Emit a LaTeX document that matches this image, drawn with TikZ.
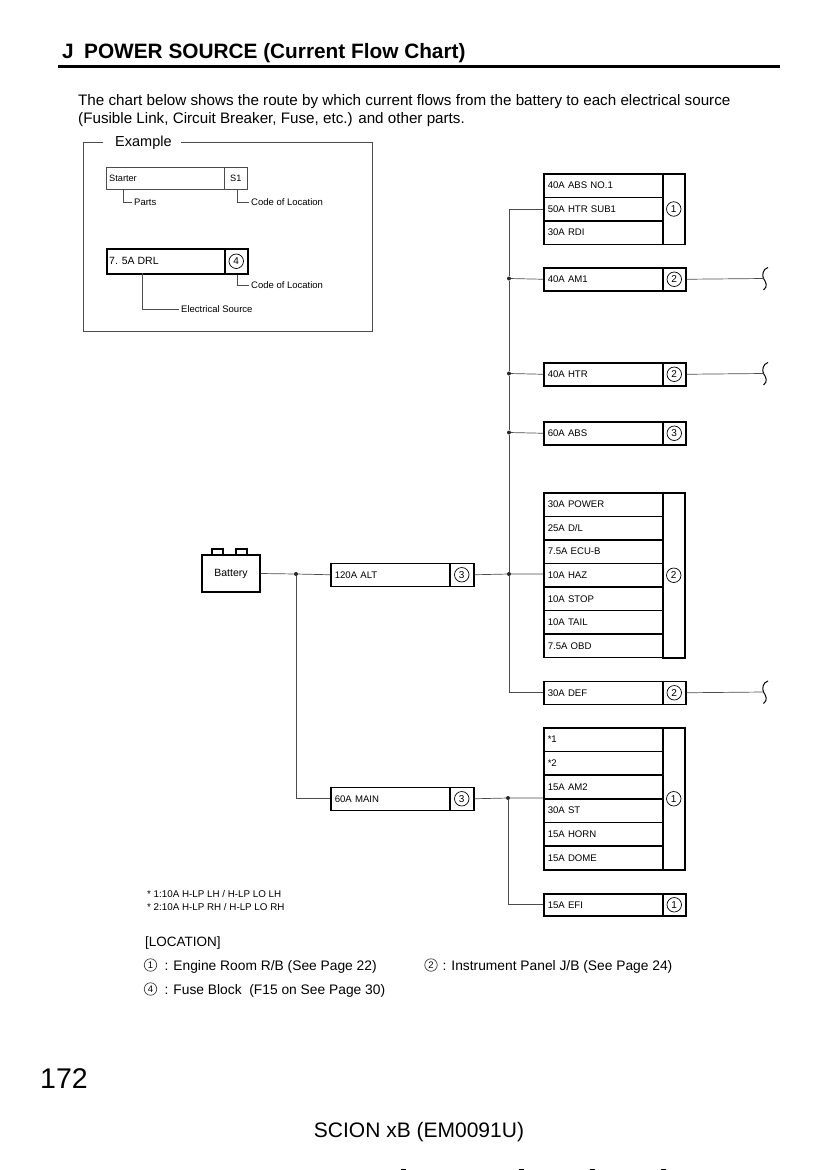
\documentclass[tikz,border=0pt]{standalone}
\usepackage{fontspec}
\setmainfont{Liberation Sans}
\usetikzlibrary{calc}
\newcommand\fsz[1]{\fontsize{#1}{#1}\selectfont}
\begin{document}
\begin{tikzpicture}[x=1pt,y=-1pt,
  cell/.style={draw, line width=1.5pt, minimum height=#1, text width=111pt, inner xsep=4pt, inner ysep=0pt, align=left, anchor=north west, font=\fsz{9.6}},
  cell/.default=23.5pt,
  codecell/.style={draw, line width=1.5pt, minimum width=23pt, minimum height=#1, inner sep=0pt, anchor=north west},
  codecell/.default=23.5pt,
  cnum/.style={circle, draw, line width=0.7pt, minimum size=14.5pt, inner sep=0pt, font=\fsz{10}},
  wire/.style={line width=0.7pt, draw=black!70},
  thinbox/.style={line width=0.6pt, draw=black!70},
  jdot/.style={circle, fill=black!85, inner sep=0pt, minimum size=4pt},
  small/.style={inner sep=0pt, anchor=west, font=\fsz{9.5}},
  body/.style={inner sep=0pt, anchor=base west, font=\fsz{15.2}},
  squig/.style={line width=1pt},
]
\useasboundingbox (0,0) rectangle (826,1170);

% ---------- header ----------
\node[inner sep=0pt, anchor=base west, font=\bfseries\fsz{20.8}] (title) at (62,58) {J\hspace{0.5em}POWER SOURCE (Current Flow Chart)};
\draw[line width=2.4pt] (58,66.5) -- (780,66.5);
\node[body] (intro1) at (78,105) {The chart below shows the route by which current flows from the battery to each electrical source};
\node[body] (intro2) at (78,123) {(Fusible Link, Circuit Breaker, Fuse, etc.) and other parts.};

% ---------- example box ----------
\node[inner sep=0pt, anchor=west, font=\fsz{14.5}] (ex) at (115,142.5) {Example};
\draw[thinbox] ($(ex.west)+(-12,0)$) -- (83,142.5) -- (83,331) -- (372,331) -- (372,142.5) -- ($(ex.east)+(9,0)$);

\node[thinbox, draw, minimum width=118pt, minimum height=22pt, inner sep=0pt, anchor=north west] (starter) at (106,167) {};
\node[small, font=\fsz{9.2}] (startert) at (109,178) {Starter};
\node[thinbox, draw, minimum width=23pt, minimum height=22pt, inner sep=0pt, anchor=north west, font=\fsz{9.2}] (s1) at (224,167) {S1};
\coordinate (pk) at (123,189);
\node[small] (parts) at (134,202) {Parts};
\draw[thinbox] (pk) |- ($(parts.west)+(-2,0)$);
\node[small] (col1) at (251,202) {Code of Location};
\draw[thinbox] ($(s1.south)+(1.5,0)$) |- ($(col1.west)+(-2,0)$);

\node[draw, line width=1.5pt, minimum width=118pt, minimum height=25pt, inner sep=0pt, anchor=north west] (drl) at (106,248) {};
\node[small, font=\fsz{10.5}] (drlt) at (109,260.5) {7. 5A DRL};
\node[codecell=25pt] (drlc) at (224,248) {};
\node[cnum] (drln) at (drlc.center) {4};
\node[small] (col2) at (251,285) {Code of Location};
\draw[thinbox] ($(drlc.south)+(1.5,0)$) |- ($(col2.west)+(-2,0)$);
\node[small] (esrc) at (181,309) {Electrical Source};
\draw[thinbox] (142,273) |- ($(esrc.west)+(-2,0)$);

% ---------- battery ----------
\node[draw, line width=1.5pt, minimum width=58pt, minimum height=37pt, inner sep=0pt, font=\fsz{10.5}] (bat) at (231,573.5) {Battery};
\draw[line width=1.5pt] (212,555) -- (212,549) -- (223,549) -- (223,555);
\draw[line width=1.5pt] (236,555) -- (236,549) -- (247,549) -- (247,555);

% ---------- 120A ALT & 60A MAIN ----------
\node[cell=23pt] (alt) at (330,562.5) {120A ALT};
\node[codecell=23pt, minimum width=24pt] (altc) at (449,562.5) {};
\node[cnum] at (altc.center) {3};
\node[cell=23pt] (main) at (330,786.5) {60A MAIN};
\node[codecell=23pt, minimum width=24pt] (mainc) at (449,786.5) {};
\node[cnum] at (mainc.center) {3};

\node[jdot] (j0) at (296,574) {};
\draw[wire] (bat.east) -- (j0) -- (alt.west);
\draw[wire] (j0) |- (main.west);

% ---------- group 1 (engine room) ----------
\node[cell] (absno1) at (543,173) {40A ABS NO.1};
\node[cell] (htrsub) at (543,196.5) {50A HTR SUB1};
\node[cell] (rdi) at (543,220) {30A RDI};
\node[codecell=70.5pt, minimum width=22pt] (g1c) at (662,173) {};
\node[cnum] at (g1c.center) {1};

% singles
\node[cell=23pt] (am1) at (543,267) {40A AM1};
\node[codecell=23pt] (am1c) at (662,267) {};
\node[cnum] at (am1c.center) {2};

\node[cell=23pt] (htr) at (543,362) {40A HTR};
\node[codecell=23pt] (htrc) at (662,362) {};
\node[cnum] at (htrc.center) {2};

\node[cell=23pt] (abs60) at (543,421) {60A ABS};
\node[codecell=23pt] (abs60c) at (662,421) {};
\node[cnum] at (abs60c.center) {3};

% group 2 (instrument panel)
\foreach \t [count=\i from 0] in {30A POWER,25A D/L,7.5A ECU-B,10A HAZ,10A STOP,10A TAIL,7.5A OBD}{
  \node[cell=23.57pt] (g2r\i) at (543,{492+23.57*\i}) {\t};
}
\node[codecell=165pt, minimum width=22pt] (g2c) at (662,492) {};
\node[cnum] at (g2c.center) {2};

\node[cell=23pt] (def) at (543,680.5) {30A DEF};
\node[codecell=23pt] (defc) at (662,680.5) {};
\node[cnum] at (defc.center) {2};

% group 3 (engine room)
\foreach \t [count=\i from 0] in {*1,*2,15A AM2,30A ST,15A HORN,15A DOME}{
  \node[cell=23.67pt] (g3r\i) at (543,{727+23.67*\i}) {\t};
}
\node[codecell=142pt, minimum width=22pt] (g3c) at (662,727) {};
\node[cnum] at (g3c.center) {1};

\node[cell=22pt] (efi) at (543,893) {15A EFI};
\node[codecell=22pt] (efic) at (662,893) {};
\node[cnum] at (efic.center) {1};

% ---------- upper bus ----------
\node[jdot] (jam1) at (509,278.5) {};
\node[jdot] (jhtr) at (509,373.5) {};
\node[jdot] (jabs) at (509,432.5) {};
\node[jdot] (jhaz) at (509,574) {};
\draw[wire] (htrsub.west) -| (jam1) -- (jhtr) -- (jabs) -- (jhaz) |- (def.west);
\draw[wire] (jam1) -- (am1.west);
\draw[wire] (jhtr) -- (htr.west);
\draw[wire] (jabs) -- (abs60.west);
\draw[wire] (altc.east) -- (jhaz) -- (jhaz -| g2r3.west);

% ---------- lower bus ----------
\node[jdot] (jmain) at (508,798) {};
\coordinate (g3b) at (543,798);
\draw[wire] (mainc.east) -- (jmain) -- (g3b);
\draw[wire] (jmain) |- (efi.west);

% ---------- continuation marks ----------
\foreach \n/\y in {a/278.5, b/373.5, c/692}{
  \coordinate (sq\n) at (763.5,\y);
  \draw[squig] (768,{\y-11}) .. controls (762.5,{\y-9.5}) and (762,{\y-3}) .. (sq\n) .. controls (765.5,{\y+3}) and (768.5,{\y+8}) .. (763.5,{\y+11.5});
}
\draw[wire] (am1c.east) -- (sqa);
\draw[wire] (htrc.east) -- (sqb);
\draw[wire] (defc.east) -- (sqc);

% ---------- footnotes ----------
\node[small, font=\fsz{9.8}] (fn1) at (147,894) {* 1:10A H-LP LH / H-LP LO LH};
\node[small, font=\fsz{9.8}] (fn2) at (147,907) {* 2:10A H-LP RH / H-LP LO RH};

% ---------- location legend ----------
\node[body, font=\fsz{13.5}] (loc) at (145,946) {[LOCATION]};
\node[cnum, minimum size=12.5pt, draw=black!75, font=\fsz{9.5}] (l1) at (150.5,965) {1};
\node[body, font=\fsz{13.8}] (l1t) at (162,970) {\,: Engine Room R/B (See Page 22)};
\node[cnum, minimum size=12.5pt, draw=black!75, font=\fsz{9.5}] (l2) at (431,965) {2};
\node[body, font=\fsz{13.8}] (l2t) at (440,970) {\,: Instrument Panel J/B (See Page 24)};
\node[cnum, minimum size=12.5pt, draw=black!75, font=\fsz{9.5}] (l4) at (150.5,989) {4};
\node[body, font=\fsz{13.8}] (l4t) at (162,994) {\,: Fuse Block\ \ (F15 on See Page 30)};

% ---------- footer ----------
\node[inner sep=0pt, anchor=base west, font=\fsz{28.5}] (page) at (40,1088) {172};
\node[inner sep=0pt, anchor=base, font=\fsz{21}] (model) at (419,1137) {SCION xB (EM0091U)};
\foreach \x in {403,521,592,663}{
  \draw[line width=0.8pt] (\x-2,1169.5) -- (\x+3,1169.5);
}
\end{tikzpicture}
\end{document}
